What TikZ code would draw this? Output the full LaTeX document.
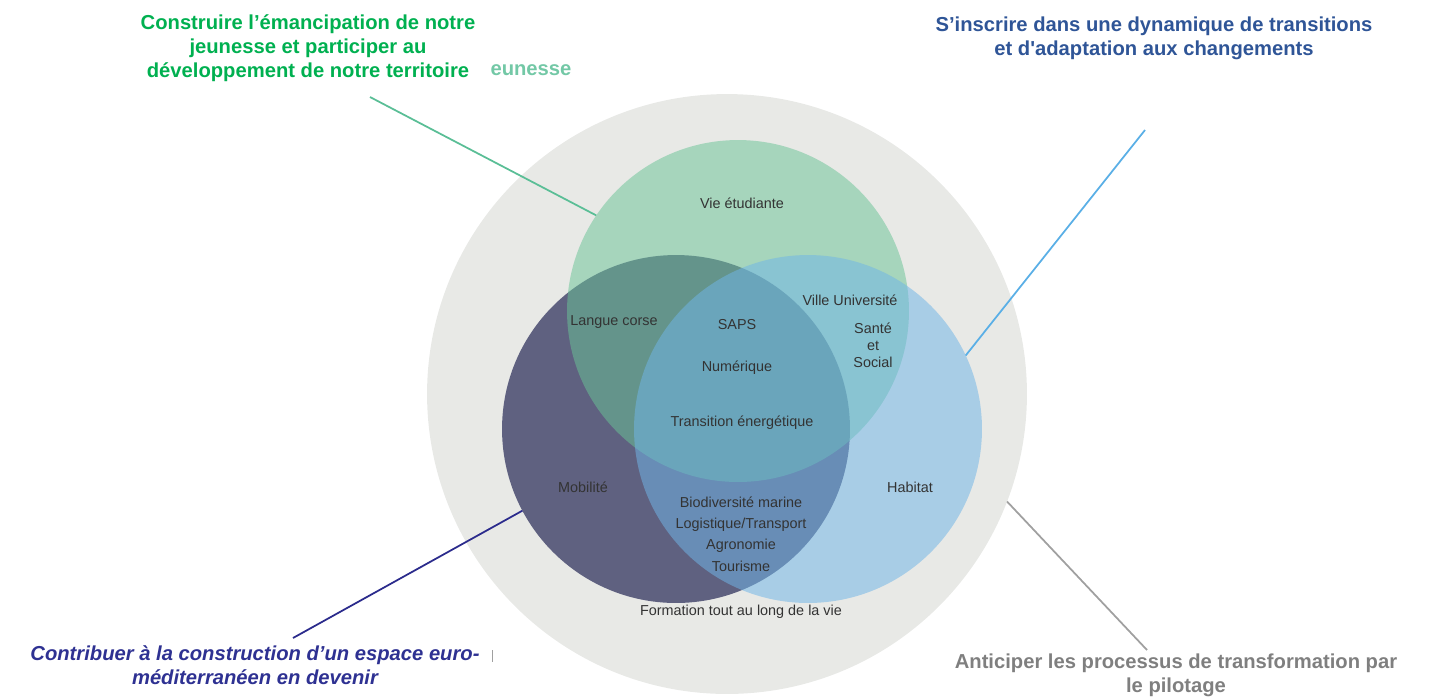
\documentclass[tikz,border=0pt]{standalone}
\usepackage{fontspec}
\setmainfont{Liberation Sans}

\definecolor{ringgray}{RGB}{232,233,230}
\definecolor{darkc}{RGB}{95,97,128}
\definecolor{greenc}{RGB}{106,195,151}
\definecolor{bluec}{RGB}{112,181,230}
\definecolor{txtgray}{RGB}{51,51,51}
\definecolor{titgreen}{RGB}{0,176,80}
\definecolor{titblue}{RGB}{47,85,151}
\definecolor{titnavy}{RGB}{46,49,146}
\definecolor{titgray}{RGB}{127,127,127}
\definecolor{linegreen}{RGB}{90,190,150}
\definecolor{lineblue}{RGB}{90,175,230}
\definecolor{linenavy}{RGB}{43,43,140}
\definecolor{linegray}{RGB}{160,160,160}

\tikzset{
  disc/.style={circle, inner sep=0pt, outer sep=0pt},
  lbl/.style={text=txtgray, font=\fontsize{8.2}{9.6}\selectfont, align=center, inner sep=0pt},
  title/.style={font=\fontsize{11.5}{13.8}\selectfont\bfseries, align=center, inner sep=0pt},
  lead/.style={line width=1pt}
}

\begin{document}
\begin{tikzpicture}[x=0.02cm, y=-0.02cm]
  \useasboundingbox (0,0) rectangle (1429,698);

  %% Circles
  \node[disc, fill=ringgray, minimum size=12cm] (ring) at (727,394) {};
  \node[disc, fill=darkc, minimum size=6.96cm] (euro) at (676,429) {};
  \node[disc, fill=greenc, fill opacity=0.52, minimum size=6.84cm] (jeune) at (738,311) {};
  \node[disc, fill=bluec, fill opacity=0.53, minimum size=6.96cm] (trans) at (808,429) {};

  %% Labels
  \node[lbl] (vie) at (742,203) {Vie étudiante};
  \node[lbl] (langue) at (614,322) {Langue corse};
  \node[lbl] (saps) at (737,325) {SAPS};
  \node[lbl] (num) at (737,368) {Numérique};
  \node[lbl] (energie) at (742,423) {Transition énergétique};
  \node[lbl] (ville) at (850,300) {Ville Université};
  \node[lbl] (sante) at (873,345) {Santé\\et\\Social};
  \node[lbl] (mob) at (583,487) {Mobilité};
  \node[lbl] (habitat) at (910,487) {Habitat};
  \node[lbl] (biodiv) at (741,502) {Biodiversité marine};
  \node[lbl] (logist) at (741,525) {Logistique/Transport};
  \node[lbl] (agro) at (741,546) {Agronomie};
  \node[lbl] (tour) at (741,566) {Tourisme};
  \node[lbl] (formation) at (741,612) {Formation tout au long de la vie};

  %% Titles
  \node[title, text=titgreen] (tjeune) at (308,48)
    {Construire l’émancipation de notre\\jeunesse et participer au\\développement de notre territoire};
  \node[title, text=linegreen!85!white] (frag) at (531,70) {eunesse};
  \node[title, text=titblue] (ttrans) at (1154,38)
    {S’inscrire dans une dynamique de transitions\\et d\textquotesingle adaptation aux changements};
  \node[title, text=titnavy, font=\fontsize{11.5}{13.8}\selectfont\bfseries\itshape] (teuro) at (255,665)
    {Contribuer à la construction d’un espace euro-\\méditerranéen en devenir};
  \node[title, text=titgray] (tpilot) at (1176,675)
    {Anticiper les processus de transformation par\\le pilotage};

  %% Leader lines
  \coordinate (gfree) at (370,97);
  \coordinate (bfree) at (1145,130);
  \coordinate (nfree) at (293,638);
  \coordinate (pfree) at (1147,650);
  \draw[lead, linegreen] (gfree) -- (jeune.146);
  \draw[lead, lineblue] (bfree) -- (trans.25);
  \draw[lead, linenavy] (nfree) -- (euro.208);
  \draw[lead, linegray] (pfree) -- (ring.339);

  \coordinate (bartop) at (492,650);
  \coordinate (barbot) at (492,662);
  \draw[line width=0.4pt, linegray] (bartop) -- (barbot);
\end{tikzpicture}
\end{document}
